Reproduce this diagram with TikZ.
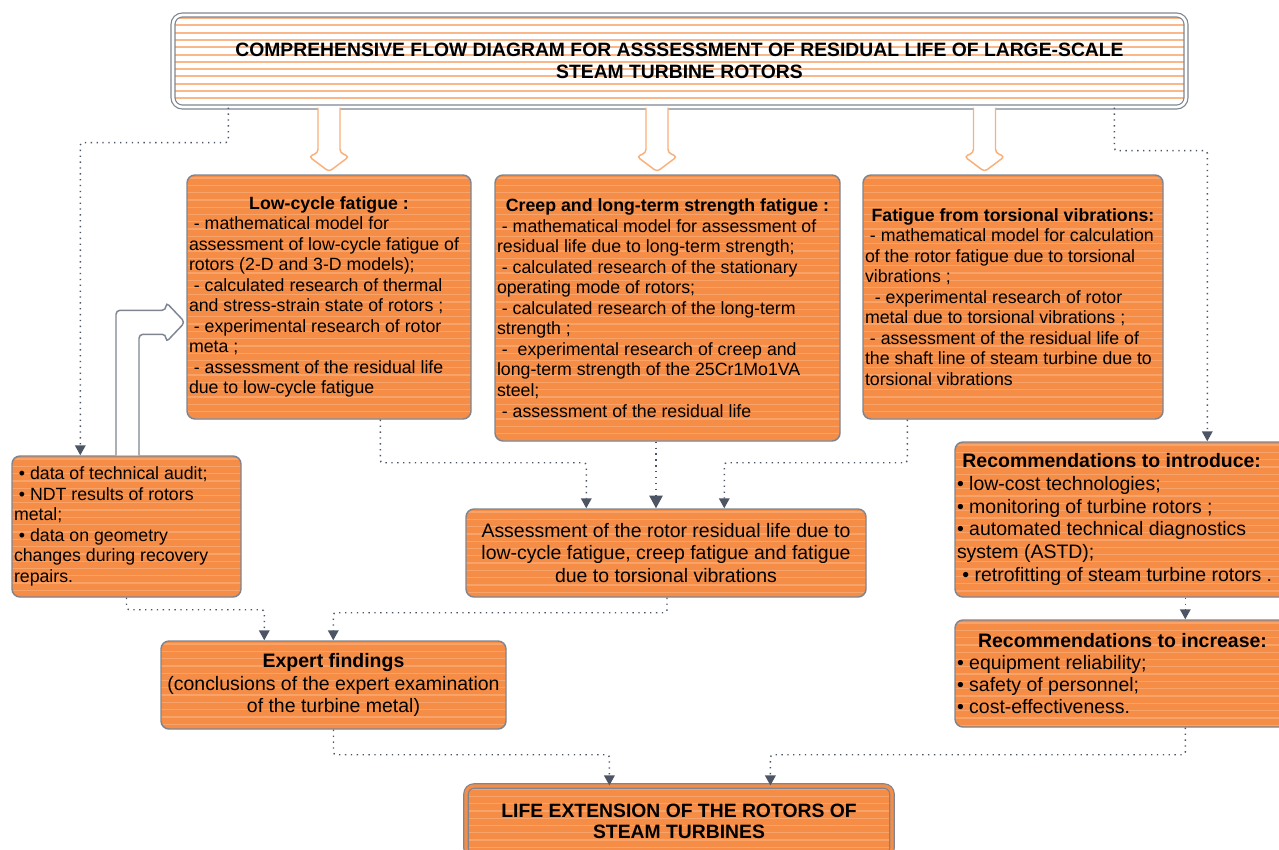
\documentclass[tikz,border=0pt]{standalone}
\usepackage{fontspec}
\setmainfont{Liberation Sans}
\usepackage{xcolor}
\usetikzlibrary{calc,arrows.meta}

\definecolor{boxorange}{RGB}{246,141,70}
\definecolor{stripeorange}{RGB}{248,163,105}
\definecolor{titlestripe}{RGB}{250,184,138}
\definecolor{arroworange}{RGB}{249,176,122}
\definecolor{bordergray}{RGB}{127,133,144}
\definecolor{linkgray}{RGB}{77,85,101}

\newcommand{\smalltxt}{\fontsize{13.3}{15.4}\selectfont}
\newcommand{\largetxt}{\fontsize{14.6}{16.6}\selectfont}
\newcommand{\headline}[1]{\makebox[\hsize][c]{\textbf{#1}}}

\begin{document}
\begin{tikzpicture}[x=0.75pt,y=-0.75pt,
  stripes/.style 2 args={path picture={
    \foreach \k in {0,...,40}
      \draw[#1, line width=#2] ($(path picture bounding box.north west)+(0,3+7.3*\k)$) -- ($(path picture bounding box.north east)+(0,3+7.3*\k)$);}},
  box/.style={draw=bordergray, line width=1.1pt, fill=boxorange, stripes={stripeorange}{1pt}, rounded corners=6pt, inner sep=1.5pt, text=black},
  titlebox/.style={draw=bordergray, line width=0.9pt, double=white, double distance=2pt, fill=white, stripes={titlestripe}{1.5pt}, rounded corners=7pt, inner sep=2pt},
  flow/.style={draw=linkgray, line width=1.1pt, dash pattern=on 1pt off 3.4pt, rounded corners=2pt, -{Triangle[width=8pt,length=7.5pt]}},
  bigflow/.style={flow, -{Triangle[width=10pt,length=9.5pt]}},
  blockarr/.style={draw=arroworange, line width=1.1pt, fill=white, rounded corners=2.5pt},
  grayarr/.style={draw=bordergray, line width=1.1pt, fill=white, rounded corners=3pt}
]
  \path[use as bounding box, fill=white] (0,0) rectangle (1279,850);

  % title
  \node[titlebox, minimum width=759.75pt, minimum height=69pt, align=center, font=\fontsize{14.5}{16.5}\selectfont\bfseries] (title) at (679.5,61) {COMPREHENSIVE FLOW DIAGRAM FOR ASSSESSMENT OF RESIDUAL LIFE OF LARGE-SCALE\\ STEAM TURBINE ROTORS};

  % three kinds of fatigue
  \node[box, minimum width=213pt, minimum height=183pt, text width=210pt, align=flush left, font=\smalltxt] (low) at (329,297) {\headline{Low-cycle fatigue :}\\ ~- mathematical model for\\ assessment of low-cycle fatigue of\\ rotors (2-D and 3-D models);\\ ~- calculated research of thermal\\ and stress-strain state of rotors ;\\ ~- experimental research of rotor\\ meta ;\\ ~- assessment of the residual life\\ due to low-cycle fatigue};
  \node[box, minimum width=258.75pt, minimum height=199.5pt, text width=255.75pt, align=flush left, font=\smalltxt] (creep) at (667.5,308) {\headline{Creep and long-term strength fatigue :}\\ ~- mathematical model for assessment of\\ residual life due to long-term strength;\\ ~- calculated research of the stationary\\ operating mode of rotors;\\ ~- calculated research of the long-term\\ strength ;\\ ~-~ experimental research of creep and\\ long-term strength of the 25Cr1Mo1VA\\ steel;\\ ~- assessment of the residual life};
  \node[box, minimum width=225pt, minimum height=183pt, text width=222pt, align=flush left, font=\smalltxt] (tors) at (1013,297) {\headline{Fatigue from torsional vibrations:}\\ ~- mathematical model for calculation\\ of the rotor fatigue due to torsional\\ vibrations ;\\ ~~- experimental research of rotor\\ metal due to torsional vibrations ;\\ ~- assessment of the residual life of\\ the shaft line of steam turbine due to\\ torsional vibrations};

  % input data and results
  \node[box, minimum width=171.75pt, minimum height=105.75pt, text width=168.75pt, align=flush left, font=\smalltxt] (data) at (126.5,526.5) {~• data of technical audit;\\ ~• NDT results of rotors\\ metal;\\ ~• data on geometry\\ changes during recovery\\ repairs.};
  \node[box, minimum width=300pt, minimum height=66pt, align=center, font=\largetxt] (assess) at (666,553) {Assessment of the rotor residual life due to\\ low-cycle fatigue, creep fatigue and fatigue\\ due to torsional vibrations};
  \node[box, minimum width=251.25pt, minimum height=116.25pt, text width=248.25pt, align=flush left, font=\fontsize{14.6}{17}\selectfont] (recin) at (1122.5,519.5) {~\textbf{Recommendations to introduce:}\\ • low-cost technologies;\\ • monitoring of turbine rotors ;\\ • automated technical diagnostics\\ system (ASTD);\\ ~• retrofitting of steam turbine rotors .};
  \node[box, minimum width=251.25pt, minimum height=80.25pt, text width=248.25pt, align=flush left, font=\largetxt] (recinc) at (1122.5,673.5) {\headline{Recommendations to increase:}\\ • equipment reliability;\\ • safety of personnel;\\ • cost-effectiveness.};
  \node[box, minimum width=258.75pt, minimum height=66pt, align=center, font=\largetxt] (expert) at (333.5,685) {\textbf{Expert findings}\\ (conclusions of the expert examination\\ of the turbine metal)};
  \node[box, double=boxorange, double distance=2.4pt, line width=0.9pt, minimum width=319.5pt, minimum height=52.5pt, align=center, font=\fontsize{14.5}{15.8}\selectfont\bfseries] (life) at (679,821) {LIFE EXTENSION OF THE ROTORS OF\\ STEAM TURBINES};

  % hollow arrows
  \draw[blockarr] ($(title.south -| low.north)+(-11,0)$) -- ++(0,45) -- ++(-9,4) -- ++(20,15) -- ++(20,-15) -- ++(-9,-4) -- ++(0,-45);
  \draw[blockarr] ($(title.south -| creep.north)+(-21.5,0)$) -- ++(0,45) -- ++(-9,4) -- ++(20,15) -- ++(20,-15) -- ++(-9,-4) -- ++(0,-45);
  \draw[blockarr] ($(title.south -| tors.north)+(-39.5,0)$) -- ++(0,45) -- ++(-9,4) -- ++(20,15) -- ++(20,-15) -- ++(-9,-4) -- ++(0,-45);
  \draw[grayarr] ($(data.north)+(-10.5,0)$) -- ++(0,-145) -- ++(50,0) -- ++(0,-8) -- ++(19,20) -- ++(-19,20) -- ++(0,-8) -- ++(-27,0) -- ++(0,121);

  % dotted links
  \draw[flow] ($(title.south west)+(56,0)$) -- ++(0,35) -| ($(data.north west)+(69,0)$);
  \draw[flow] ($(title.south west)+(942,0)$) -- ++(0,43) -| ($(recin.north west)+(253,0)$);
  \draw[flow] ($(low.south west)+(194,0)$) -- ++(0,43) -| ($(assess.north west)+(121,0)$);
  \draw[bigflow] ($(creep.south)+(-11.5,0)$) -- ($(assess.north)+(-10,0)$);
  \draw[flow] ($(tors.south west)+(45,0)$) -- ++(0,43) -| ($(assess.north west)+(259,0)$);
  \draw[flow] (data.south) -- ++(0,12) -| ($(expert.north west)+(104,0)$);
  \draw[flow] ($(assess.south)+(1,0)$) -- ++(0,15) -| ($(expert.north west)+(173,0)$);
  \draw[flow] ($(recin.south west)+(231,0)$) -- ($(recinc.north west)+(231,0)$);
  \draw[flow] (expert.south) -- ++(0,25) -| ($(life.north west)+(144,0)$);
  \draw[flow] ($(recinc.south west)+(231,0)$) -- ++(0,27) -| ($(life.north west)+(305,0)$);
\end{tikzpicture}
\end{document}
